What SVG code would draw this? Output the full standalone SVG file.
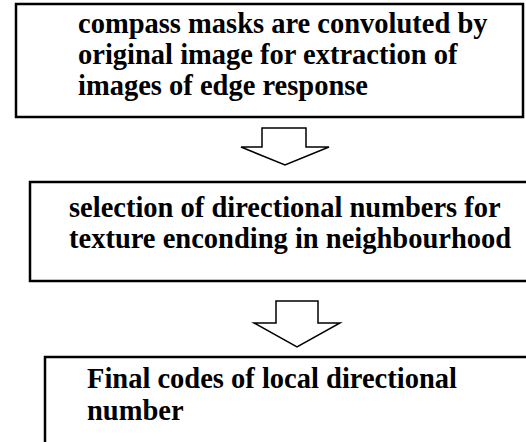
<svg xmlns="http://www.w3.org/2000/svg" width="526" height="442" viewBox="0 0 526 442">
<style>
.box{fill:#fff;stroke:#000;stroke-width:2.5}
.arr{fill:#fff;stroke:#000;stroke-width:1.5;stroke-linejoin:miter}
.t{font-family:"Liberation Serif","Times New Roman",serif;font-weight:bold;font-size:28.5px;fill:#000}
</style>
<rect width="526" height="442" fill="#fff"/>
<g id="node1">
<rect class="box" x="16" y="4" width="507" height="113"/>
<text class="t" x="78" y="33">compass masks are convoluted by</text>
<text class="t" x="78" y="64">original image for extraction of</text>
<text class="t" x="78" y="95">images of edge response</text>
</g>
<g id="node2">
<rect class="box" x="30" y="182" width="520" height="99"/>
<text class="t" x="69" y="217">selection of directional numbers for</text>
<text class="t" x="69" y="248">texture enconding in neighbourhood</text>
</g>
<g id="node3">
<rect class="box" x="45" y="357" width="520" height="100"/>
<text class="t" x="87" y="388">Final codes of local directional</text>
<text class="t" x="87" y="420">number</text>
</g>
<g id="connectors">
<polygon class="arr" points="262,128 306,128 306,147 329,147 285,165 241,147 262,147"/>
<polygon class="arr" points="276,301 318,301 318,323 340,323 297,347 254,323 276,323"/>
</g>
</svg>
